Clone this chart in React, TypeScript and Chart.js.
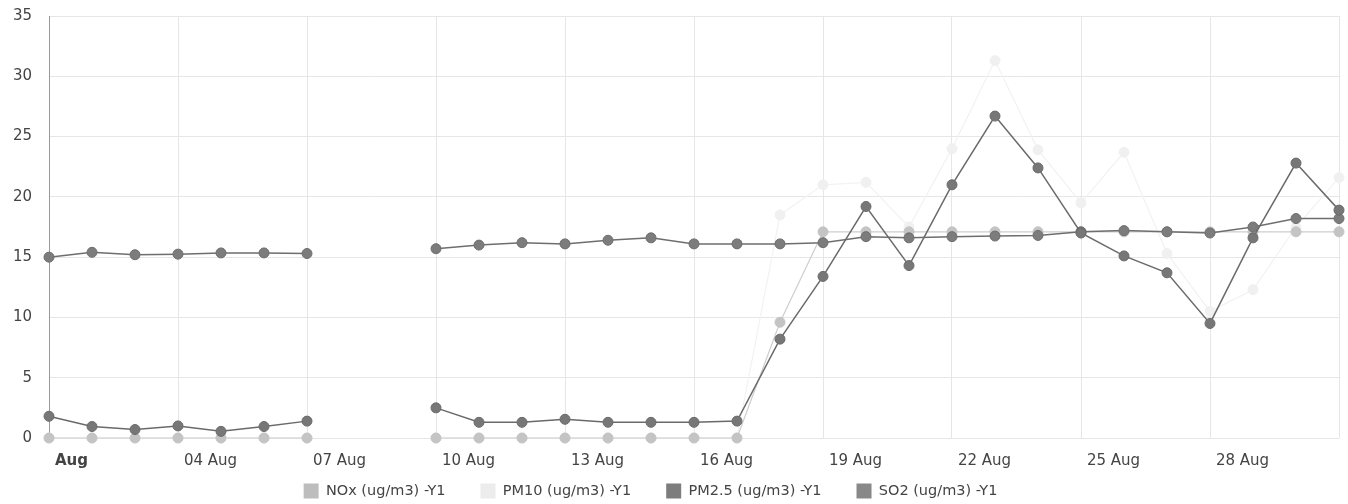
import React, { useEffect, useRef } from 'react';
import { Chart, registerables } from 'chart.js';

Chart.register(...registerables);

// Day of August for every reading
const days = [1, 2, 3, 4, 5, 6, 7, 8, 9, 10, 11, 12, 13, 14, 15, 16, 17, 18, 19, 20, 21, 22, 23, 24, 25, 26, 27, 28, 29, 30, 31];

// Series values (ug/m3); null = no data
const noxValues = [0, 0, 0, 0, 0, 0, 0, null, null, 0, 0, 0, 0, 0, 0, 0, 0, 9.6, 17.1, 17.1, 17.1, 17.1, 17.1, 17.1, 17.1, 17.1, 17.1, 17.1, 17.1, 17.1, 17.1];
const pm10Values = [0, 0, 0, 0, 0, 0, 0, null, null, 0, 0, 0, 0, 0, 0, 0, 0, 18.5, 21.0, 21.2, 17.5, 24.0, 31.3, 23.9, 19.5, 23.7, 15.3, 10.5, 12.3, 17.5, 21.6];
const pm25Values = [1.8, 0.95, 0.7, 1.0, 0.55, 0.95, 1.4, null, null, 2.5, 1.3, 1.3, 1.55, 1.3, 1.3, 1.3, 1.4, 8.2, 13.4, 19.2, 14.3, 21.0, 26.7, 22.4, 17.0, 15.1, 13.7, 9.5, 16.6, 22.8, 18.9];
const so2Values = [15.0, 15.4, 15.2, 15.25, 15.35, 15.35, 15.3, null, null, 15.7, 16.0, 16.2, 16.1, 16.4, 16.6, 16.1, 16.1, 16.1, 16.2, 16.7, 16.6, 16.7, 16.75, 16.8, 17.1, 17.2, 17.1, 17.0, 17.5, 18.2, 18.2];

// Axis ticks
const xTickDays = [1, 4, 7, 10, 13, 16, 19, 22, 25, 28, 31];
const xTickLabels = ['Aug', '04 Aug', '07 Aug', '10 Aug', '13 Aug', '16 Aug', '19 Aug', '22 Aug', '25 Aug', '28 Aug', ''];
const yMin = 0;
const yMax = 35;
const yStep = 5;

const seriesNames = ['NOx (ug/m3) -Y1', 'PM10 (ug/m3) -Y1', 'PM2.5 (ug/m3) -Y1', 'SO2 (ug/m3) -Y1'];
const legendColors = ['#bdbdbd', '#ececec', '#7d7d7d', '#888888'];

const toPoints = (vals: (number | null)[]) => days.map((d, i) => ({ x: d, y: vals[i] }));

// nudge the legend row: move it left and let it draw a little lower than its box
const legendShift = {
  id: 'legendShift',
  afterLayout(chart: any) {
    const lg = chart.legend;
    if (lg) {
      lg.right -= 38;
      lg.top = 448.5;
      lg.height = lg.bottom - lg.top;
    }
  },
};

export default function App() {
  const ref = useRef<HTMLCanvasElement | null>(null);

  useEffect(() => {
    if (!ref.current) return;
    Chart.defaults.font.family = '"DejaVu Sans", Verdana, sans-serif';
    const chart = new Chart(ref.current, {
      type: 'line',
      data: {
        datasets: [
          {
            label: seriesNames[0],
            data: toPoints(noxValues),
            borderColor: '#cdcdcd',
            backgroundColor: legendColors[0],
            borderWidth: 1.2,
            pointRadius: 5,
            pointBackgroundColor: '#c4c4c4',
            pointBorderColor: '#c4c4c4',
            pointBorderWidth: 1,
            clip: false,
            order: 4,
          },
          {
            label: seriesNames[1],
            data: toPoints(pm10Values),
            borderColor: '#f2f2f2',
            backgroundColor: legendColors[1],
            borderWidth: 1.2,
            pointRadius: 5,
            pointBackgroundColor: '#f0f0f0',
            pointBorderColor: '#f0f0f0',
            pointBorderWidth: 1,
            clip: false,
            order: 5,
          },
          {
            label: seriesNames[2],
            data: toPoints(pm25Values),
            borderColor: '#6a6a6a',
            backgroundColor: legendColors[2],
            borderWidth: 1.5,
            pointRadius: 5,
            pointBackgroundColor: '#777777',
            pointBorderColor: '#6a6a6a',
            pointBorderWidth: 1,
            clip: false,
            order: 1,
          },
          {
            label: seriesNames[3],
            data: toPoints(so2Values),
            borderColor: '#6e6e6e',
            backgroundColor: legendColors[3],
            borderWidth: 1.5,
            pointRadius: 5,
            pointBackgroundColor: '#7c7c7c',
            pointBorderColor: '#6e6e6e',
            pointBorderWidth: 1,
            clip: false,
            order: 2,
          },
        ],
      },
      options: {
        animation: false,
        responsive: true,
        maintainAspectRatio: false,
        spanGaps: false,
        layout: { padding: { top: 16, right: 9, bottom: 0, left: 0 } },
        plugins: {
          tooltip: { enabled: false },
          legend: {
            position: 'bottom',
            maxHeight: 30,
            labels: {
              boxWidth: 15,
              boxHeight: 15,
              padding: 35,
              color: '#444',
              font: { size: 14.5 },
              sort: (a: any, b: any) => a.datasetIndex - b.datasetIndex,
              generateLabels: (chart: any) =>
                (Chart.defaults.plugins.legend.labels.generateLabels as any)(chart).map((l: any) => ({
                  ...l,
                  fillStyle: legendColors[l.datasetIndex],
                  strokeStyle: 'rgba(0,0,0,0)',
                  lineWidth: 0,
                })),
            },
          },
        },
        scales: {
          x: {
            type: 'linear',
            min: days[0],
            max: days[days.length - 1],
            afterBuildTicks: (scale: any) => {
              scale.ticks = xTickDays.map((v) => ({ value: v }));
            },
            afterFit: (scale: any) => {
              scale.height = 36;
            },
            border: { display: false },
            grid: { color: '#e6e6e6', drawTicks: true, tickLength: 11, tickColor: 'rgba(0,0,0,0)', lineWidth: 1 },
            ticks: {
              autoSkip: false,
              maxRotation: 0,
              minRotation: 0,
              align: 'start',
              labelOffset: 6,
              padding: 3,
              color: '#444',
              font: (ctx: any) => ({ size: 15, weight: ctx.index === 0 ? 'bold' : 'normal' }),
              callback: (_v: any, i: number) => xTickLabels[i],
            },
          },
          y: {
            min: yMin,
            max: yMax,
            afterFit: (scale: any) => {
              scale.width = 49;
            },
            border: { display: true, color: '#9a9a9a', width: 1 },
            grid: { color: '#e6e6e6', tickColor: 'rgba(0,0,0,0)', tickLength: 14, lineWidth: 1 },
            ticks: {
              stepSize: yStep,
              padding: 3,
              color: '#444',
              font: { size: 15 },
            },
          },
        },
      },
      plugins: [legendShift],
    } as any);
    return () => chart.destroy();
  }, []);

  return (
    <div style={{ position: 'fixed', left: 0, top: 0, width: 1348, height: 504, background: '#fff' }}>
      <canvas ref={ref} />
    </div>
  );
}
